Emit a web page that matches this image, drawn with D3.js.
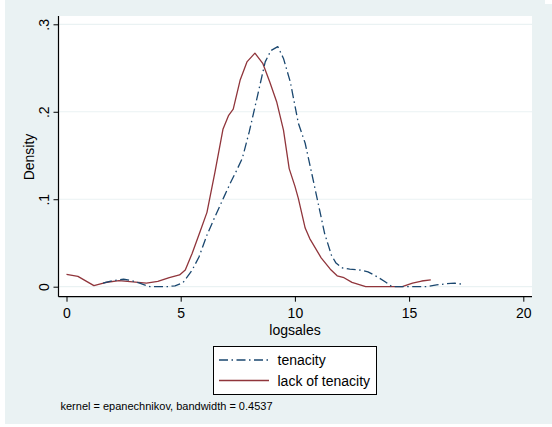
<!DOCTYPE html>
<html>
<head>
<meta charset="utf-8">
<script src="https://cdn.jsdelivr.net/npm/d3@7"></script>
<style>
  html, body { margin: 0; padding: 0; background: #ffffff; }
  svg { display: block; font-family: Arial, "Liberation Sans", sans-serif; }
</style>
</head>
<body>
<svg id="chart" width="552" height="427"></svg>
<script>
// Kernel density estimates of logsales, by group
const tenacityX = [1.6, 2.05, 2.5, 2.85, 3.2, 3.65, 4.4, 4.75, 5.1, 5.5, 5.8, 6.15, 6.5, 6.9, 7.2, 7.45, 7.7, 8.0, 8.3, 8.55, 8.7, 8.95, 9.25, 9.5, 9.8, 10.15, 10.45, 10.75, 11.05, 11.3, 11.6, 11.8, 12.05, 12.4, 12.85, 13.2, 13.6, 13.95, 14.25, 15.75, 16.2, 16.65, 17.0, 17.3];
const tenacityY = [0.004, 0.007, 0.0085, 0.007, 0.004, 0, 0, 0.001, 0.0046, 0.019, 0.034, 0.059, 0.080, 0.103, 0.120, 0.133, 0.147, 0.177, 0.211, 0.240, 0.257, 0.270, 0.2745, 0.261, 0.234, 0.187, 0.164, 0.128, 0.0915, 0.061, 0.036, 0.027, 0.0217, 0.020, 0.019, 0.017, 0.0114, 0.0057, 0, 0, 0.002, 0.0034, 0.004, 0.003];

const lackX = [0, 0.5, 1.2, 1.7, 2.3, 2.9, 3.5, 4.0, 4.5, 4.95, 5.2, 5.5, 5.85, 6.15, 6.5, 6.85, 7.1, 7.3, 7.6, 7.9, 8.25, 8.6, 8.9, 9.2, 9.5, 9.75, 10.0, 10.15, 10.45, 10.65, 11.15, 11.55, 11.85, 12.15, 12.5, 13.1, 14.7, 15.15, 15.55, 15.95];
const lackY = [0.0142, 0.0118, 0.0012, 0.0048, 0.007, 0.0055, 0.004, 0.006, 0.0105, 0.0134, 0.019, 0.038, 0.063, 0.085, 0.131, 0.180, 0.196, 0.203, 0.236, 0.257, 0.267, 0.255, 0.234, 0.2115, 0.179, 0.135, 0.115, 0.101, 0.067, 0.055, 0.033, 0.020, 0.0125, 0.0103, 0.005, 0, 0, 0.004, 0.0065, 0.0077];

const xTicks = [0, 5, 10, 15, 20];
const yTicks = [0, 0.1, 0.2, 0.3];
const yTickLabels = ["0", ".1", ".2", ".3"];
const seriesNames = ["tenacity", "lack of tenacity"];
const seriesColors = ["#1a476f", "#90353b"];
const xTitle = "logsales";
const yTitle = "Density";
const note = "kernel = epanechnikov, bandwidth = 0.4537";

const svg = d3.select("#chart");

// Graph region background
svg.append("rect").attr("x", 5).attr("y", 0).attr("width", 547).attr("height", 424).attr("fill", "#eaf2f3");
svg.append("rect").attr("x", 545).attr("y", 0).attr("width", 7).attr("height", 4).attr("fill", "#ffffff");

const plot = { left: 58.5, right: 532, top: 16, bottom: 296.7 };
const x = d3.scaleLinear().domain([0, 20]).range([66.5, 523.3]);
const y = d3.scaleLinear().domain([0, 0.3]).range([286.7, 24.3]);

// Plot region
svg.append("rect")
  .attr("x", plot.left).attr("y", plot.top)
  .attr("width", plot.right - plot.left).attr("height", plot.bottom - plot.top)
  .attr("fill", "#ffffff");

// Horizontal gridlines
svg.append("g").selectAll("line").data(yTicks).join("line")
  .attr("x1", plot.left).attr("x2", plot.right)
  .attr("y1", d => y(d)).attr("y2", d => y(d))
  .attr("stroke", "#eaf2f3").attr("stroke-width", 1.2);

// Density curves
const line = d3.line().x(d => x(d[0])).y(d => y(d[1]));
const tenacity = tenacityX.map((v, i) => [v, tenacityY[i]]);
const lack = lackX.map((v, i) => [v, lackY[i]]);

svg.append("path").datum(lack)
  .attr("d", line).attr("fill", "none")
  .attr("stroke", seriesColors[1]).attr("stroke-width", 1.3)
  .attr("stroke-linejoin", "round");
svg.append("path").datum(tenacity)
  .attr("d", line).attr("fill", "none")
  .attr("stroke", seriesColors[0]).attr("stroke-width", 1.3)
  .attr("stroke-dasharray", "9,3.5,1.5,3.5")
  .attr("stroke-linejoin", "round");

// Y axis
const yAxis = d3.axisLeft(y).tickValues(yTicks).tickFormat((d, i) => yTickLabels[i]).tickSize(5).tickPadding(0);
const gy = svg.append("g").attr("transform", `translate(${plot.left},0)`).call(yAxis);
gy.select(".domain").attr("d", `M0,${plot.top}V${plot.bottom}`).attr("stroke", "#000").attr("stroke-width", 1.2);
gy.selectAll(".tick line").attr("stroke", "#000").attr("stroke-width", 1);
gy.selectAll(".tick text")
  .attr("x", null).attr("dy", null)
  .attr("transform", "translate(-10,0) rotate(-90)")
  .attr("text-anchor", "middle")
  .attr("y", 0)
  .attr("font-size", 14).attr("fill", "#000")
  .attr("font-family", "Arial, 'Liberation Sans', sans-serif");

// X axis
const xAxis = d3.axisBottom(x).tickValues(xTicks).tickFormat(d3.format("d")).tickSize(5).tickPadding(6);
const gx = svg.append("g").attr("transform", `translate(0,${plot.bottom})`).call(xAxis);
gx.select(".domain").attr("d", `M${plot.left},0H${plot.right}`).attr("stroke", "#000").attr("stroke-width", 1.2);
gx.selectAll(".tick line").attr("stroke", "#000").attr("stroke-width", 1);
gx.selectAll(".tick text")
  .attr("dy", null).attr("y", 21)
  .attr("font-size", 14).attr("fill", "#000")
  .attr("font-family", "Arial, 'Liberation Sans', sans-serif");

// Axis titles
svg.append("text").attr("x", 295).attr("y", 334.5)
  .attr("text-anchor", "middle").attr("font-size", 14).text(xTitle);
svg.append("text").attr("transform", "translate(34,157) rotate(-90)")
  .attr("text-anchor", "middle").attr("font-size", 14).text(yTitle);

// Legend
const legend = svg.append("g");
legend.append("rect").attr("x", 213.5).attr("y", 346.5).attr("width", 163).attr("height", 48)
  .attr("fill", "#ffffff").attr("stroke", "#000").attr("stroke-width", 1);
const legendRows = [
  { name: seriesNames[0], color: seriesColors[0], dash: "9,3.5,1.5,3.5", ly: 360, ty: 364.5 },
  { name: seriesNames[1], color: seriesColors[1], dash: null, ly: 380.5, ty: 386 }
];
legendRows.forEach(r => {
  legend.append("line").attr("x1", 219).attr("x2", 269).attr("y1", r.ly).attr("y2", r.ly)
    .attr("stroke", r.color).attr("stroke-width", 1.3)
    .attr("stroke-dasharray", r.dash);
  legend.append("text").attr("x", 277.5).attr("y", r.ty).attr("font-size", 14).text(r.name);
});

// Note
svg.append("text").attr("x", 60.5).attr("y", 409.5).attr("font-size", 11).text(note);
</script>
</body>
</html>
